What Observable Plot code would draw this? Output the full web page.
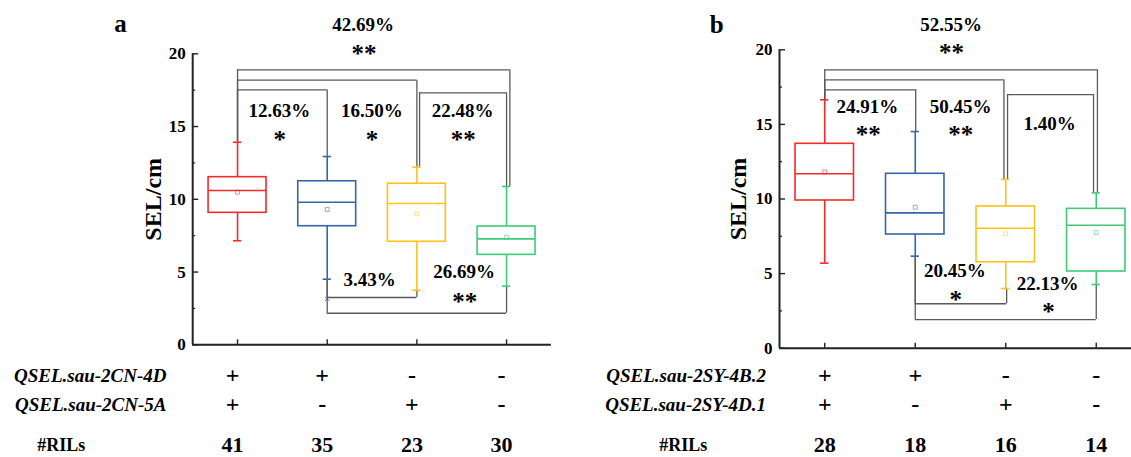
<!DOCTYPE html>
<html>
<head>
<meta charset="utf-8">
<script src="https://cdn.jsdelivr.net/npm/d3@7"></script>
<script src="https://cdn.jsdelivr.net/npm/@observablehq/plot@0.6"></script>
<style>
  html, body { margin: 0; padding: 0; background: #fff; overflow: hidden; }
  #wrap { position: relative; width: 1131px; height: 457px; overflow: hidden; background: #fff; }
  #pa, #pb { position: absolute; top: 0; width: 580px; height: 457px; }
  #pa { left: 0; }
  #pb { left: 580px; }
  #wrap svg { max-width: none !important; width: 580px; height: 457px; }
  #wrap svg text { font-family: "Liberation Serif", "Times New Roman", serif !important; }
</style>
</head>
<body>
<div id="wrap"><div id="pa"></div><div id="pb"></div></div>
<script>
// ---------- data ----------
const groupIdx = [1, 2, 3, 4];
const groupColors = ["#f42b2b", "#3466a8", "#ffc21a", "#3fca78"];
const yTicks = [0, 5, 10, 15, 20];
const yMinorTicks = [2.5, 7.5, 12.5, 17.5];

// Panel a
const minA  = [7.15, 4.51, 3.75, 4.03];
const q1A   = [9.07, 8.15, 7.08, 6.18];
const medA  = [10.60, 9.80, 9.71, 7.28];
const q3A   = [11.52, 11.24, 11.07, 8.13];
const maxA  = [13.92, 12.94, 12.21, 10.88];
const meanA = [10.49, 9.30, 9.00, 7.40];
const outA  = [{x: 2, y: 3.16}];
const bracketsA = [
  {x1: 1, x2: 4.037, y: 18.90, side: "top"},
  {x1: 1, x2: 3.00, y: 18.19, side: "top"},
  {x1: 1, x2: 2.00, y: 17.52, side: "top"},
  {x1: 3.03, x2: 4.00, y: 17.32, side: "top"},
  {x1: 2, x2: 3.00, y: 3.25, side: "bottom"},
  {x1: 2, x2: 4.00, y: 2.17, side: "bottom"}
];
const pctA = [
  {t: "42.69%", x: 2.40, y: 21.98},
  {t: "12.63%", x: 1.466, y: 16.06},
  {t: "16.50%", x: 2.497, y: 16.06},
  {t: "22.48%", x: 3.51, y: 16.06},
  {t: "3.43%", x: 2.474, y: 4.47},
  {t: "26.69%", x: 3.528, y: 4.98}
];
const starA = [
  {t: "**", x: 2.41, y: 20.23},
  {t: "*", x: 1.47, y: 14.36},
  {t: "*", x: 2.50, y: 14.36},
  {t: "**", x: 3.517, y: 14.36},
  {t: "**", x: 3.534, y: 3.25}
];
const qtlA = ["QSEL.sau-2CN-4D", "QSEL.sau-2CN-5A"];
const allele1A = ["+", "+", "-", "-"];
const allele2A = ["+", "-", "+", "-"];
const nRILsA = [41, 35, 23, 30];

// Panel b
const minB  = [5.70, 6.17, 4.00, 4.27];
const q1B   = [9.90, 7.62, 5.76, 5.14];
const medB  = [11.69, 9.07, 8.04, 8.24];
const q3B   = [13.70, 11.69, 9.50, 9.34];
const maxB  = [16.65, 14.52, 11.31, 10.41];
const meanB = [11.82, 9.45, 7.67, 7.75];
const outB  = [];
const bracketsB = [
  {x1: 1, x2: 4.013, y: 18.66, side: "top"},
  {x1: 1, x2: 2.98, y: 17.99, side: "top"},
  {x1: 1, x2: 2.005, y: 17.32, side: "top"},
  {x1: 3.02, x2: 3.97, y: 17.00, side: "top"},
  {x1: 2, x2: 3.01, y: 2.98, side: "bottom"},
  {x1: 2, x2: 4.00, y: 1.92, side: "bottom"}
];
const pctB = [
  {t: "52.55%", x: 2.396, y: 21.66},
  {t: "24.91%", x: 1.472, y: 16.2},
  {t: "50.45%", x: 2.50, y: 16.2},
  {t: "1.40%", x: 3.484, y: 15.06},
  {t: "20.45%", x: 2.439, y: 5.21},
  {t: "22.13%", x: 3.462, y: 4.32}
];
const starB = [
  {t: "**", x: 2.40, y: 20.07},
  {t: "**", x: 1.48, y: 14.59},
  {t: "**", x: 2.503, y: 14.59},
  {t: "*", x: 2.447, y: 3.48},
  {t: "*", x: 3.473, y: 2.69}
];
const qtlB = ["QSEL.sau-2SY-4B.2", "QSEL.sau-2SY-4D.1"];
const allele1B = ["+", "+", "-", "-"];
const allele2B = ["+", "-", "+", "-"];
const nRILsB = [28, 18, 16, 14];

// ---------- drawing ----------
const FONT = "Liberation Serif, Times New Roman, serif";
const H = 457;
const HALF = 0.323;   // half box width (category units)
const CAP = 0.046;    // half cap width
const BR = "#5a5a5a";
const AX = "#222";

function panel(o) {
  const innerW = o.width - o.mL - o.mR;
  const innerH = H - o.mT - o.mB;
  const stats = groupIdx.map((x, i) => ({
    x, min: o.min[i], q1: o.q1[i], med: o.med[i], q3: o.q3[i], max: o.max[i], mean: o.mean[i], color: groupColors[i]
  }));
  const outs = o.out.map(d => ({...d, color: groupColors[d.x - 1]}));
  const br = o.brackets.map(b => {
    const iL = Math.round(b.x1) - 1, iR = Math.round(b.x2) - 1;
    const endL = b.side === "top" ? o.max[iL] : o.min[iL];
    const endR = b.side === "top" ? o.max[iR] : o.min[iR];
    return {...b, endL, endR};
  });
  const T = {fontFamily: FONT, fontWeight: "bold", fill: "#000", textAnchor: "middle", lineAnchor: "middle"};
  const rows = (arr) => groupIdx.map((x, i) => ({x, t: String(arr[i])}));
  const tableText = (arr, dy, size) => Plot.text(rows(arr), {
    ...T, x: "x", text: "t", frameAnchor: "bottom", dy, dx: o.tableDx, fontSize: size
  });
  return Plot.plot({
    width: o.width, height: H,
    marginLeft: o.mL, marginRight: o.mR, marginTop: o.mT, marginBottom: o.mB,
    style: {fontFamily: FONT, background: "transparent", color: "#000", maxWidth: "none"},
    x: {domain: [0.5, 4.5], axis: null},
    y: {domain: [0, 20]},
    color: {type: "identity"},
    marks: [
      // brackets
      Plot.ruleX(br, {x: "x1", y1: "y", y2: "endL", stroke: BR, strokeWidth: 1.3}),
      Plot.ruleX(br, {x: "x2", y1: "y", y2: "endR", stroke: BR, strokeWidth: 1.3}),
      Plot.ruleY(br, {y: "y", x1: "x1", x2: "x2", stroke: BR, strokeWidth: 1.3}),
      // whiskers
      Plot.ruleX(stats, {x: "x", y1: "q3", y2: "max", stroke: "color", strokeWidth: 1.6}),
      Plot.ruleX(stats, {x: "x", y1: "min", y2: "q1", stroke: "color", strokeWidth: 1.6}),
      Plot.ruleY(stats, {y: "max", x1: d => d.x - CAP, x2: d => d.x + CAP, stroke: "color", strokeWidth: 1.6}),
      Plot.ruleY(stats, {y: "min", x1: d => d.x - CAP, x2: d => d.x + CAP, stroke: "color", strokeWidth: 1.6}),
      // boxes
      Plot.rect(stats, {x1: d => d.x - HALF, x2: d => d.x + HALF, y1: "q1", y2: "q3", stroke: "color", fill: "none", strokeWidth: 1.6}),
      Plot.ruleY(stats, {y: "med", x1: d => d.x - HALF, x2: d => d.x + HALF, stroke: "color", strokeWidth: 1.6}),
      Plot.dot(stats, {x: "x", y: "mean", symbol: "square", r: 2.2, stroke: "color", strokeOpacity: 0.6, strokeWidth: 0.9, fill: "none"}),
      Plot.dot(outs, {x: "x", y: "y", symbol: "times", r: 2, stroke: "color", strokeWidth: 0.9}),
      // axes
      Plot.ruleX([0.5], {stroke: AX, strokeWidth: 2}),
      Plot.ruleY([0], {stroke: AX, strokeWidth: 2}),
      Plot.ruleY(yTicks, {y: d => d, insetRight: innerW - 6, stroke: AX, strokeWidth: 1.4}),
      Plot.ruleY(yMinorTicks, {y: d => d, insetRight: innerW - 3, stroke: AX, strokeWidth: 1.2}),
      Plot.ruleX(groupIdx, {x: d => d, insetTop: innerH - 5, stroke: AX, strokeWidth: 1.4}),
      Plot.axisY(yTicks, {fontFamily: FONT, fontWeight: "bold", fill: "#000", tickSize: 0, tickPadding: 7, fontSize: 17}),
      Plot.text(["SEL/cm"], {...T, text: d => d, frameAnchor: "left", rotate: -90, dx: o.ylabDx, fontSize: 24}),
      Plot.text([o.letter], {...T, text: d => d, frameAnchor: "top-left", dx: o.letterDx, dy: o.letterDy, fontSize: 25}),
      // annotations
      Plot.text(o.pct, {...T, x: "x", y: "y", text: "t", fontSize: 19}),
      Plot.text(o.star, {...T, x: "x", y: "y", text: "t", fontSize: 25, dy: 4}),
      // table
      Plot.text([o.qtl[0]], {...T, text: d => d, frameAnchor: "bottom-left", textAnchor: "end", dx: o.rowLabelDx, dy: o.rowDy[0], fontSize: 19, fontStyle: "italic"}),
      Plot.text([o.qtl[1]], {...T, text: d => d, frameAnchor: "bottom-left", textAnchor: "end", dx: o.rowLabelDx, dy: o.rowDy[1], fontSize: 19, fontStyle: "italic"}),
      Plot.text(["#RILs"], {...T, text: d => d, frameAnchor: "bottom-left", dx: o.rilsDx, dy: o.rowDy[2], fontSize: 18}),
      tableText(o.al1, o.rowDy[0], 24),
      tableText(o.al2, o.rowDy[1], 24),
      tableText(o.n, o.rowDy[2], 22)
    ]
  });
}

document.getElementById("pa").appendChild(panel({
  width: 580, mL: 192.2, mR: 29.1, mT: 53.3, mB: 112.7,
  min: minA, q1: q1A, med: medA, q3: q3A, max: maxA, mean: meanA, out: outA,
  brackets: bracketsA, pct: pctA, star: starA,
  qtl: qtlA, al1: allele1A, al2: allele2A, n: nRILsA,
  letter: "a", letterDx: -72.2, letterDy: -30.3, ylabDx: -39.5,
  rowLabelDx: -26.2, rilsDx: -131.5, tableDx: -5, rowDy: [30.7, 59.7, 100]
}));

document.getElementById("pb").appendChild(panel({
  width: 580, mL: 199, mR: 19, mT: 49.3, mB: 109.3,
  min: minB, q1: q1B, med: medB, q3: q3B, max: maxB, mean: meanB, out: outB,
  brackets: bracketsB, pct: pctB, star: starB,
  qtl: qtlB, al1: allele1B, al2: allele2B, n: nRILsB,
  letter: "b", letterDx: -62.7, letterDy: -25.3, ylabDx: -40.7,
  rowLabelDx: -13.5, rilsDx: -96.2, tableDx: 0, rowDy: [27.3, 56.3, 96.6]
}));
</script>
</body>
</html>
